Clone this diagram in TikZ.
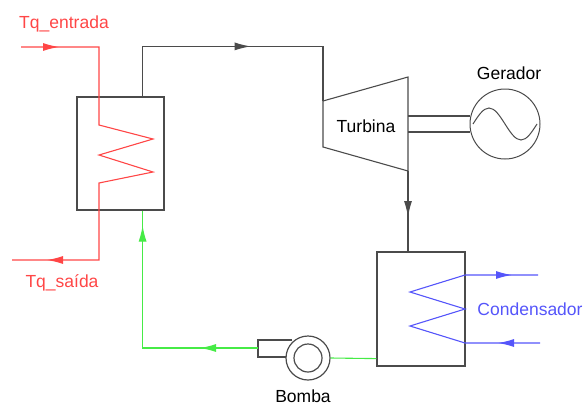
\documentclass[tikz,border=0pt]{standalone}
\usepackage{fontspec}
\setmainfont{Liberation Sans}
\usetikzlibrary{arrows.meta, positioning, decorations.markings}
\definecolor{cinza}{RGB}{75,75,75}
\definecolor{vermelho}{RGB}{255,70,70}
\definecolor{verde}{RGB}{70,235,70}
\definecolor{azul}{RGB}{85,85,250}
\tikzset{%
	equip/.style={
		draw=cinza,
		line width=1.2pt,
		inner sep=0pt
	},
	linha/.style={draw=cinza, line width=1.1pt},
	seta/.style={
		postaction={decorate, decoration={markings,
			mark=at position #1 with {\arrow{Latex[length=16pt,width=8pt]}}}}
	},
	rotulo/.style={font=\fontsize{17.5}{20}\selectfont},
}

\begin{document}
\begin{tikzpicture}[x=1pt, y=-1pt]
	\useasboundingbox (0,0) rectangle (588,407);
	
	% Equipamentos
	\node[equip, minimum width=87pt, minimum height=113pt] (caldeira) at (120.5,153.5) {};
	\node[equip, minimum width=88pt, minimum height=114pt] (condensador) at (421,309) {};
	\node[equip, circle, line width=1pt, minimum size=70pt] (gerador) at (505,124) {};
	\draw[linha] (323,101) -- (408,77) -- (408,171) -- (323,147) -- cycle;
	\node[rotulo] (turbina) at (366,126) {Turbina};
	
	% Pontos de ligacao
	\coordinate (vapor) at ([xshift=-22pt]caldeira.north east);
	\coordinate (retorno) at ([xshift=-22pt]caldeira.south east);
	\coordinate (entTurb) at (323,101);
	\coordinate (saiTurb) at (408,171);
	\coordinate (saiBomba) at (258,348);
	\coordinate (qEnt) at (21,47);
	\coordinate (qSai) at (12,260);
	\coordinate (fEnt) at (540,343);
	\coordinate (fSai) at (538,275);
	
	% Bomba
	\draw[linha] (292,340) -| (258,357) -- (292,357);
	\node[equip, circle, fill=white, minimum size=44pt] (bomba) at (308,358) {};
	\node[equip, circle, minimum size=28pt] (rotor) at (bomba) {};
	
	% Gerador: senoide e eixo
	\draw[linha, line width=1pt] ([xshift=-32pt]gerador.center) sin ++(16,-16) cos ++(16,16) sin ++(16,16) cos ++(16,-16);
	\foreach \dy in {-8,8} {
		\draw[linha] ([yshift=\dy pt]gerador.west) -- ++(-62,0);
	}
	
	% Ciclo de vapor
	\draw[linha, seta=158pt] (vapor) -- ++(0,-50) -| (entTurb);
	\draw[linha, seta=46pt] (saiTurb) -- (saiTurb |- condensador.north);
	
	% Agua de alimentacao
	\draw[draw=verde, line width=1.1pt] ([yshift=8pt]condensador.south west) -- (bomba.east);
	\draw[draw=verde, line width=1.1pt, seta=58pt, seta=-15pt] (saiBomba) -| (retorno);
	
	% Fonte quente
	\draw[draw=vermelho, line width=1.1pt, seta=38pt, seta=-35pt] (qEnt) -| (99,125) -- (153,139) -- (99,155) -- (153,172) -- (99,183) |- (qSai);
	
	% Agua de resfriamento
	\draw[draw=azul, line width=1.1pt, seta=42pt, seta=-26pt] (fEnt) -- (465,343) -- (410,326) -- (465,309) -- (410,292) -- (465,275) -- (fSai);
	
	% Rotulos
	\node[rotulo, text=vermelho] (tqEntrada) at (64,24) {Tq\_entrada};
	\node[rotulo, text=vermelho] (tqSaida) at (62,283) {Tq\_saída};
	\node[rotulo] (lblGerador) at (509,73) {Gerador};
	\node[rotulo, text=azul] (lblCondensador) at (530,309) {Condensador};
	\node[rotulo] (lblBomba) at (303,396) {Bomba};
\end{tikzpicture}
\end{document}
